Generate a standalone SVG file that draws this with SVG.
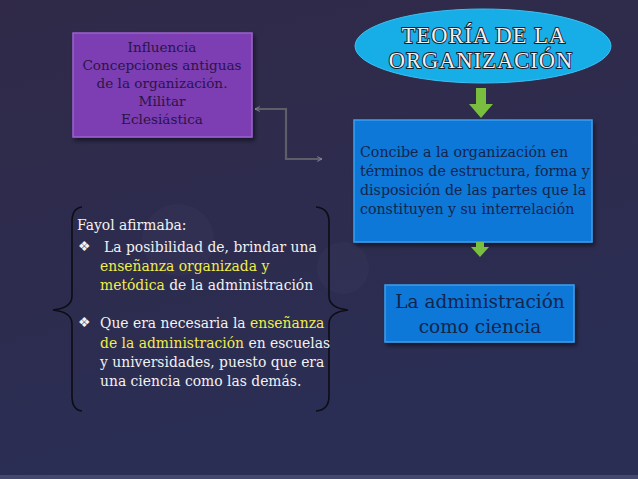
<svg xmlns="http://www.w3.org/2000/svg" width="638" height="479" viewBox="0 0 638 479">
<defs>
<linearGradient id="bg" x1="0" y1="0" x2="0.3" y2="1">
<stop offset="0" stop-color="#302a48"/>
<stop offset="0.6" stop-color="#2d2c4f"/>
<stop offset="1" stop-color="#2a2e55"/>
</linearGradient>
<marker id="ah" viewBox="0 0 10 10" refX="9" refY="5" markerWidth="6" markerHeight="6" orient="auto-start-reverse" markerUnits="userSpaceOnUse">
<path d="M1,1 L9,5 L1,9" fill="none" stroke="#8a8a9a" stroke-width="1.5"/>
</marker>
<filter id="sh" x="-10%" y="-10%" width="130%" height="130%">
<feDropShadow dx="2" dy="3" stdDeviation="2" flood-color="#000" flood-opacity="0.5"/>
</filter>
</defs>
<style>
.serif{font-family:"DejaVu Serif","Liberation Serif",serif}
.pt{font-size:13.6px;fill:#2a1546;text-anchor:middle}
.bt{font-size:14.2px;fill:#14254d}
.wt{font-size:13.9px;fill:#f2f2f2}
.hl{fill:#f0ee4a}
.title{font-family:"Liberation Serif","Times New Roman",serif;font-size:22.5px;fill:#eef0f2;stroke:#1b1b28;stroke-width:1.8px;paint-order:stroke;text-anchor:middle;letter-spacing:1px}
.brace{fill:none;stroke:#0d0d14;stroke-width:1.6}
.conn{fill:none;stroke:#5e5e68;stroke-width:2.2}
.green{fill:#79be3e}
</style>
<rect width="638" height="479" fill="url(#bg)"/>
<circle cx="178" cy="240" r="36" fill="#ffffff" opacity="0.025"/>
<circle cx="343" cy="268" r="26" fill="#ffffff" opacity="0.025"/>
<rect x="0" y="475" width="638" height="4" fill="#45486e"/>

<g id="influencia">
<rect x="73" y="33" width="179" height="104" fill="#7d3db3" stroke="#9b62cf" stroke-width="1.5" filter="url(#sh)"/>
<text class="serif pt" x="162" y="52">Influencia</text>
<text class="serif pt" x="162" y="70">Concepciones antiguas</text>
<text class="serif pt" x="162" y="88">de la organización.</text>
<text class="serif pt" x="162" y="106">Militar</text>
<text class="serif pt" x="162" y="124">Eclesiástica</text>
</g>

<g id="teoria">
<ellipse cx="483" cy="46" rx="128" ry="37" fill="#17aee8" stroke="#3cc0f2" stroke-width="1"/>
<text class="title" x="484" y="43">TEORÍA DE LA</text>
<text class="title" x="481" y="68">ORGANIZACIÓN</text>
</g>

<g id="concibe">
<rect x="354" y="120" width="238" height="122" fill="#0b78d8" stroke="#3aa0ef" stroke-width="1.5" filter="url(#sh)"/>
<text class="serif bt" x="360" y="157">Concibe a la organización en</text>
<text class="serif bt" x="360" y="176">términos de estructura, forma y</text>
<text class="serif bt" x="360" y="195">disposición de las partes que la</text>
<text class="serif bt" x="360" y="214">constituyen y su interrelación</text>
</g>

<g id="ciencia">
<rect x="385" y="285" width="189" height="57" fill="#0b78d8" stroke="#3aa0ef" stroke-width="1.5" filter="url(#sh)"/>
<text class="serif" x="480" y="308" font-size="18.5" fill="#14254d" text-anchor="middle">La administración</text>
<text class="serif" x="480" y="333" font-size="18.5" fill="#14254d" text-anchor="middle">como ciencia</text>
</g>

<g id="fayol">
<path class="brace" d="M82,207 Q72,208 72,222 L72,296 Q72,308 53,310 Q72,312 72,324 L72,396 Q72,410 82,411"/>
<path class="brace" d="M316,207 Q329,208 329,222 L329,296 Q329,308 348,310 Q329,312 329,324 L329,396 Q329,410 316,411"/>
<text class="serif wt" x="77" y="230">Fayol afirmaba:</text>
<text class="serif wt" x="78" y="251" font-size="11">❖</text>
<text class="serif wt" x="104" y="252">La posibilidad de, brindar una</text>
<text class="serif wt" x="100" y="271"><tspan class="hl">enseñanza organizada y</tspan></text>
<text class="serif wt" x="100" y="290"><tspan class="hl">metódica</tspan> de la administración</text>
<text class="serif wt" x="78" y="327" font-size="11">❖</text>
<text class="serif wt" x="100" y="328">Que era necesaria la <tspan class="hl">enseñanza</tspan></text>
<text class="serif wt" x="100" y="348"><tspan class="hl">de la administración</tspan> en escuelas</text>
<text class="serif wt" x="100" y="367">y universidades, puesto que era</text>
<text class="serif wt" x="100" y="386">una ciencia como las demás.</text>
</g>

<g id="connectors">
<path class="conn" d="M255,109 L286,109 L286,159 L322,159" marker-start="url(#ah)" marker-end="url(#ah)"/>
<path class="green" d="M476,88 L486,88 L486,104 L493,104 L481,118 L469,104 L476,104 Z"/>
<path class="green" d="M476,242 L484,242 L484,247 L489,247 L480,257 L471,247 L476,247 Z"/>
</g>
</svg>
